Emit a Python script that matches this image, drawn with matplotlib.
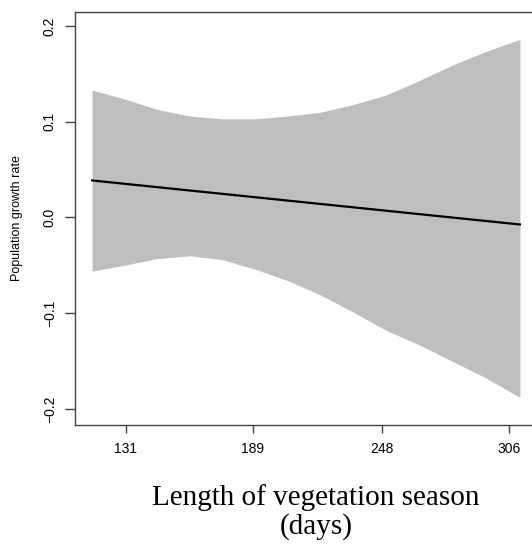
import matplotlib.pyplot as plt

# predicted population growth rate vs length of vegetation season
season_days = [115.5, 130, 145, 160, 175, 190, 205, 220, 235, 250, 265, 280, 295, 311]
upper_ci = [0.133, 0.124, 0.113, 0.106, 0.103, 0.103, 0.106, 0.110, 0.118, 0.128,
            0.143, 0.159, 0.173, 0.186]
lower_ci = [-0.056, -0.050, -0.043, -0.040, -0.044, -0.054, -0.066, -0.081, -0.099,
            -0.118, -0.133, -0.150, -0.167, -0.188]
fit_days = [115.5, 311]
fit_rate = [0.0387, -0.0073]

xticks = [131, 189, 248, 306]
yticks = [-0.2, -0.1, 0.0, 0.1, 0.2]
ytick_labels = ['\u22120.2', '\u22120.1', '0.0', '0.1', '0.2']

W, H = 532, 547
fig = plt.figure(figsize=(W / 100, H / 100), dpi=100)
ax = fig.add_axes([75 / W, (H - 425) / H, 462 / W, 413 / H])

ax.fill_between(season_days, lower_ci, upper_ci, color='#bebebe', linewidth=0)
ax.plot(fit_days, fit_rate, color='black', linewidth=1.6)

ax.set_xlim(107.7, 318.8)
ax.set_ylim(-0.2167, 0.2146)

for side in ['left', 'bottom', 'top']:
    ax.spines[side].set_color('#444444')
    ax.spines[side].set_linewidth(1.0)
ax.spines['right'].set_visible(False)

ax.set_xticks(xticks)
ax.set_xticklabels([str(t) for t in xticks], family='Liberation Sans', fontsize=10)
ax.set_yticks(yticks)
ax.set_yticklabels(ytick_labels, family='Liberation Sans', fontsize=10,
                   rotation=90, va='center')
ax.tick_params(axis='x', direction='out', length=6, width=1.0, color='#444444', pad=6)
ax.tick_params(axis='y', direction='out', length=7, width=1.0, color='#444444', pad=6)

fig.text(17 / W, (H - 218) / H, 'Population growth rate', rotation=90,
         ha='center', va='center', family='Liberation Sans', fontsize=9)

fig.text(316 / W, (H - 505) / H, 'Length of vegetation season', ha='center',
         va='baseline', family='Liberation Serif', fontsize=21)
fig.text(316 / W, (H - 534) / H, '(days)', ha='center', va='baseline',
         family='Liberation Serif', fontsize=21)

fig.savefig('out.png', dpi=100)
